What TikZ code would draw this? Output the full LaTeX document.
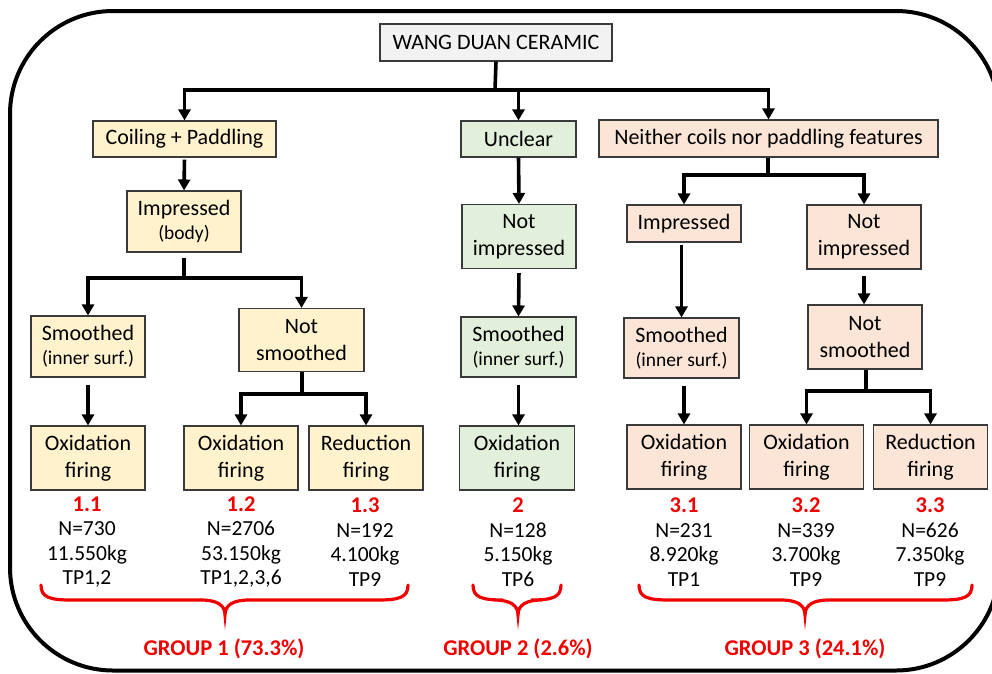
\documentclass[tikz,border=0pt]{standalone}
\usepackage{fontspec}
\setmainfont{Carlito}
\usetikzlibrary{arrows.meta}
\definecolor{boxy}{HTML}{FFF2CC}
\definecolor{boxg}{HTML}{E2EFDA}
\definecolor{boxp}{HTML}{FBE5D6}
\definecolor{boxw}{HTML}{F2F2F2}
\definecolor{grpred}{HTML}{F00000}
\definecolor{edgec}{HTML}{3A3A3A}
\newcommand\grpbrace[3]{%
  \draw[brc] (#1,585) .. controls (#1,597) and ({#1+8},600) .. ({#1+30},600)
    -- ({#2-24},600) .. controls ({#2-8},600) and (#2,605) .. (#2,615)
    .. controls (#2,605) and ({#2+8},600) .. ({#2+24},600)
    -- ({#3-30},600) .. controls ({#3-8},600) and (#3,597) .. (#3,585);}
\begin{document}
\begin{tikzpicture}[x=1pt,y=-1pt,
  box/.style={draw=edgec,line width=1.1pt,inner sep=0pt,align=center,
    font=\fontsize{22}{27}\selectfont},
  ybox/.style={box,fill=boxy},
  gbox/.style={box,fill=boxg},
  pbox/.style={box,fill=boxp},
  wbox/.style={box,fill=boxw},
  sz/.style args={#1x#2}{minimum width=#1pt,minimum height=#2pt},
  arr/.style={line width=3.6pt,-{Triangle[width=12pt,length=11pt]},line join=miter},
  ln/.style={line width=3.6pt},
  lab/.style={align=center,font=\fontsize{21.5}{24.5}\selectfont,inner sep=0pt},
  grp/.style={font=\fontsize{22.5}{24}\selectfont\bfseries,text=grpred,inner sep=0pt},
  brc/.style={draw=grpred,line width=3.2pt,line cap=round}]
\useasboundingbox (0,0) rectangle (992,673);
\clip (0,0) rectangle (992,673);
\draw[line width=4pt] (10,114) arc[start angle=180,end angle=270,radius=103]
  -- (896,11) arc[start angle=270,end angle=360,radius=103]
  -- (999,567.5) arc[start angle=0,end angle=90,radius=103]
  -- (113,670.5) arc[start angle=90,end angle=180,radius=103] -- cycle;

% level 0
\node[wbox,sz=232x37] (wang) at (496,42.5) {WANG DUAN CERAMIC};
% level 1
\node[ybox,sz=183x36] (coil) at (184.5,139) {Coiling + Paddling};
\node[gbox,sz=115x36] (uncl) at (518.5,139) {Unclear};
\node[pbox,sz=339x37] (neit) at (768.5,138.5) {Neither coils nor paddling features};
% level 2
\node[ybox,sz=114x61] (impb) at (184,221.5) {Impressed\\[-3pt]{\fontsize{19.5}{24}\selectfont (body)}};
\node[gbox,sz=114x64] (nimg) at (519,236.5) {Not\\impressed};
\node[pbox,sz=114x37] (impp) at (684,223.5) {Impressed};
\node[pbox,sz=114x64] (nimp) at (864,237) {Not\\impressed};
% level 3
\node[ybox,sz=114x61] (smy) at (88,346.5) {Smoothed\\[-3pt]{\fontsize{19.5}{24}\selectfont (inner surf.)}};
\node[ybox,sz=125x63] (nsy) at (301.5,340) {Not\\smoothed};
\node[gbox,sz=115x60] (smg) at (518.5,347) {Smoothed\\[-3pt]{\fontsize{19.5}{24}\selectfont (inner surf.)}};
\node[pbox,sz=115x60] (smp) at (681.5,348) {Smoothed\\[-3pt]{\fontsize{19.5}{24}\selectfont (inner surf.)}};
\node[pbox,sz=114x64] (nsp) at (865,337) {Not\\smoothed};
% level 4
\node[ybox,sz=114x64] (o11) at (88,458) {Oxidation\\firing};
\node[ybox,sz=114x64] (o12) at (241,458) {Oxidation\\firing};
\node[ybox,sz=114x64] (r13) at (366,458) {Reduction\\firing};
\node[gbox,sz=115x64] (o2) at (517,458) {Oxidation\\firing};
\node[pbox,sz=114x64] (o31) at (684,457) {Oxidation\\firing};
\node[pbox,sz=114x64] (o32) at (806.5,457) {Oxidation\\firing};
\node[pbox,sz=114x64] (r33) at (930.5,457) {Reduction\\firing};

% labels
\node[lab] (l11) at (87,542) {{\fontsize{22.5}{24.5}\selectfont\bfseries\color{grpred}1.1}\\N=730\\11.550kg\\TP1,2};
\node[lab] (l12) at (241,542) {{\fontsize{22.5}{24.5}\selectfont\bfseries\color{grpred}1.2}\\N=2706\\53.150kg\\TP1,2,3,6};
\node[lab] (l13) at (365,542) {{\fontsize{22.5}{24.5}\selectfont\bfseries\color{grpred}1.3}\\N=192\\4.100kg\\TP9};
\node[lab] (l2) at (518,542) {{\fontsize{22.5}{24.5}\selectfont\bfseries\color{grpred}2}\\N=128\\5.150kg\\TP6};
\node[lab] (l31) at (684,542) {{\fontsize{22.5}{24.5}\selectfont\bfseries\color{grpred}3.1}\\N=231\\8.920kg\\TP1};
\node[lab] (l32) at (806,542) {{\fontsize{22.5}{24.5}\selectfont\bfseries\color{grpred}3.2}\\N=339\\3.700kg\\TP9};
\node[lab] (l33) at (930,542) {{\fontsize{22.5}{24.5}\selectfont\bfseries\color{grpred}3.3}\\N=626\\7.350kg\\TP9};

% braces and groups
\grpbrace{41}{225}{408}
\grpbrace{473}{518}{561}
\grpbrace{639}{805}{972}
\node[grp] (g1) at (224,649) {GROUP 1 (73.3\%)};
\node[grp] (g2) at (518,649) {GROUP 2 (2.6\%)};
\node[grp] (g3) at (805,649) {GROUP 3 (24.1\%)};

% connectors
\coordinate (j0) at (495,90);
\draw[ln] (wang.south) -- (j0);
\draw[arr] (j0) -| (coil.north);
\draw[arr] (j0) -| (neit.north);
\draw[arr] (j0 -| uncl.north) -- (uncl.north);

\draw[arr,shorten <=2pt] (coil.south) -- (impb.north);
\coordinate (j1) at (184,278);
\draw[ln,shorten <=5pt] (impb.south) -- (j1);
\draw[arr] (j1) -| (smy.north);
\draw[arr] (j1) -| (nsy.north);
\draw[arr,shorten <=7pt] (smy.south) -- (o11.north);
\coordinate (j2) at (302,394);
\draw[ln] (nsy.south -| j2) -- (j2);
\draw[arr] (j2) -| (o12.north);
\draw[arr] (j2) -| (r13.north);

\draw[arr] (uncl.south) -- (nimg.north);
\draw[arr,shorten <=4pt] (nimg.south) -- (smg.north);
\draw[arr,shorten <=7pt] (smg.south) -- (o2.north -| smg.south);

\coordinate (j3) at (768,175);
\draw[ln] (neit.south -| j3) -- (j3);
\draw[arr] (j3) -| (impp.north);
\draw[arr] (j3) -| (nimp.north);
\draw[arr,shorten <=2pt] (impp.south -| smp.north) -- (smp.north);
\draw[arr,shorten <=6pt] (nimp.south) -- (nsp.north -| nimp.south);
\draw[arr,shorten <=7pt] (smp.south -| o31.north) -- (o31.north);
\coordinate (j4) at (866,391);
\draw[ln] (nsp.south -| j4) -- (j4);
\draw[arr] (j4) -| (o32.north);
\draw[arr] (j4) -| (r33.north);
\end{tikzpicture}
\end{document}
